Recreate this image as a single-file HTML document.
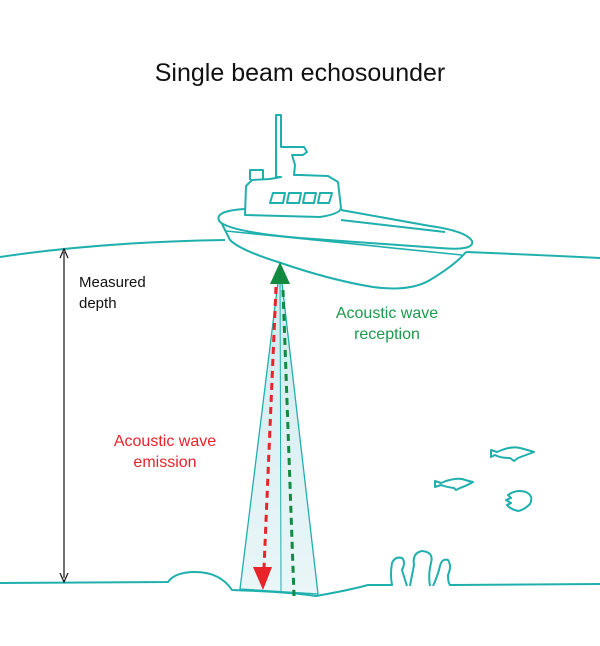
<!DOCTYPE html>
<html><head><style>
body{margin:0;background:#fff;}
svg{display:block;font-family:"Liberation Sans",sans-serif;}
</style></head><body>
<svg width="600" height="646" viewBox="0 0 600 646">
<defs>
<linearGradient id="g" x1="0" y1="0" x2="0" y2="1"><stop offset="0" stop-color="#cfeaee"/><stop offset="1" stop-color="#eaf6f8"/></linearGradient>
</defs>
<text x="300" y="81" font-size="25" text-anchor="middle" fill="#111">Single beam echosounder</text>
<g fill="none" stroke="#1fb0ad" stroke-width="2" stroke-linejoin="round">
<path d="M280 266 L240 589 L318 594 Z" fill="url(#g)" stroke-width="1.3"/>
<line x1="280" y1="266" x2="281" y2="592" stroke-width="1"/>
<path d="M0 257 Q100 242 225 240"/>
<path d="M466 252 Q540 255 600 258"/>
<path d="M0 583 L168 582 Q175 572 195 572 Q220 572 232 590 Q290 592 316 596 Q350 590 368 585 L392 585 Q390 575 392 563 Q395 556 402 558 Q406 562 402 570 Q405 580 407 586 M410 586 Q412 575 414 565 Q412 553 422 551 Q434 552 431 563 Q428 575 430 586 M433 586 Q438 575 440 566 Q442 558 448 560 Q452 566 448 575 Q448 583 450 585 L600 584"/>
<path d="M276 177 L276 115 L281 115 L281 147 L304 147 L307 152 L303 155 L292 155 L295 165 L294 175 L300 175 L328 176 L338 182 L341 208 Q340 214 320 217 L245 215 L246 186 L252 180 L270 179 L281 177 Z"/>
<path d="M250 180 L250 170 L263 170 L263 179"/>
<path d="M273 193 L285 193 L283 203 L270 203 Z M289 193 L301 193 L299 203 L287 203 Z M305 193 L316 193 L314 203 L303 203 Z M320 193 L332 193 L329 203 L318 203 Z"/>
<path d="M245 209 Q212 211 220 222 Q232 232 300 238 L440 248 Q475 251 472 241 Q466 231 430 226 L341 210"/>
<path d="M341 220 L445 232"/>
<path d="M222 224 L230 240 Q240 250 278 262 Q330 280 373 287 Q410 292 430 280 Q455 265 466 252"/>
<path d="M226 231 Q350 244 462 255" stroke-width="1.6"/>
<path d="M491 450 L497 452 L502 450 Q512 446 520 448 Q528 450 534 452 Q526 455 518 458 L514 461 L510 458 Q500 458 495 455 L491 457 Z"/>
<path d="M435 481 L441 483 L446 481 Q456 478 462 479 Q468 481 473 482 Q466 486 460 488 L456 490 L454 488 Q446 487 441 485 L435 487 Z"/>
<path d="M508 495 Q516 489 526 492 Q534 496 530 504 Q524 510 518 511 Q510 509 507 505 L511 503 L506 500 L511 498 Z"/>
</g>
<line x1="276" y1="287" x2="264" y2="568" stroke="#e8232a" stroke-width="3" stroke-dasharray="7,5"/>
<path d="M253 567 L272 567 L263 590 Z" fill="#e8232a"/>
<line x1="283" y1="290" x2="294" y2="596" stroke="#128a3f" stroke-width="3" stroke-dasharray="7,5"/>
<path d="M270 284 L290 284 L280 262 Z" fill="#128a3f"/>
<line x1="64" y1="252" x2="64" y2="578" stroke="#111" stroke-width="1.2"/>
<path d="M60 258 L64 249 L68 258 M60 573 L64 582 L68 573" fill="none" stroke="#111" stroke-width="1.2"/>
<text x="79" y="287" font-size="15" fill="#111">Measured</text>
<text x="79" y="308" font-size="15" fill="#111">depth</text>
<text x="387" y="318" font-size="16" fill="#1a9a4a" text-anchor="middle">Acoustic wave</text>
<text x="387" y="339" font-size="16" fill="#1a9a4a" text-anchor="middle">reception</text>
<text x="165" y="446" font-size="16" fill="#e8232a" text-anchor="middle">Acoustic wave</text>
<text x="165" y="467" font-size="16" fill="#e8232a" text-anchor="middle">emission</text>
</svg>
</body></html>
